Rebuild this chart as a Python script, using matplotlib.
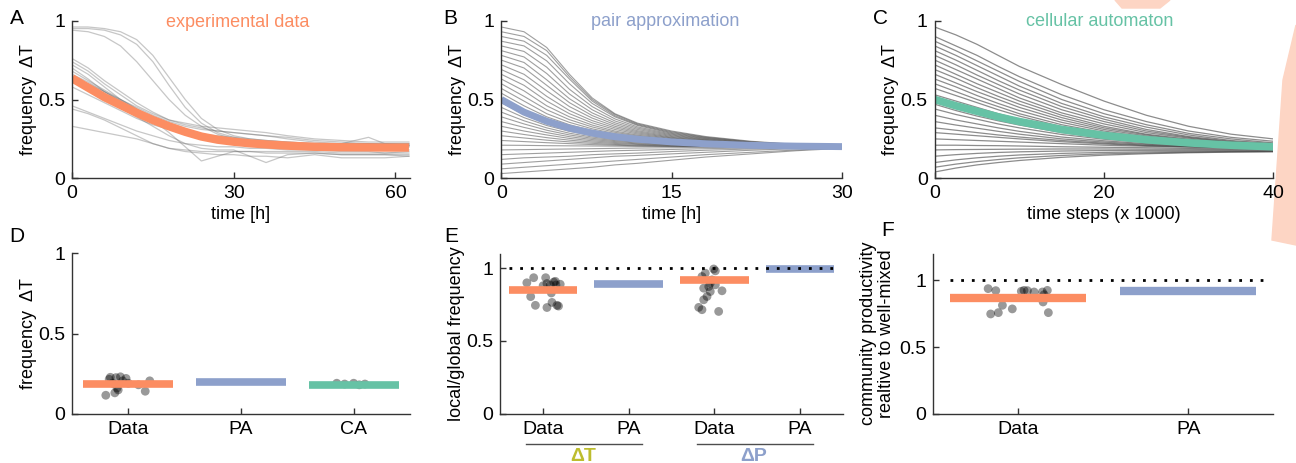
import matplotlib.pyplot as plt
from matplotlib.patches import Polygon

plt.rcParams['font.family'] = ['Liberation Sans', 'DejaVu Sans']
plt.rcParams['font.size'] = 13

ORANGE = '#FC8D62'
BLUE = '#8DA0CB'
GREEN = '#66C2A5'
OLIVE = '#BDBD2E'

# ---------------- A: experimental data (time in h)
tA = [0, 3, 6, 9, 12, 15, 18, 21, 24, 27, 30, 33, 36, 40, 45, 50, 55, 58, 62.5]
A_curves = [
    [0.96, 0.96, 0.95, 0.93, 0.88, 0.78, 0.64, 0.50, 0.38, 0.31, 0.27, 0.25, 0.24, 0.23, 0.22, 0.22, 0.22, 0.22, 0.22],
    [0.95, 0.95, 0.94, 0.91, 0.85, 0.74, 0.59, 0.45, 0.35, 0.29, 0.26, 0.24, 0.23, 0.22, 0.21, 0.21, 0.21, 0.21, 0.21],
    [0.94, 0.93, 0.90, 0.84, 0.74, 0.62, 0.50, 0.40, 0.33, 0.28, 0.25, 0.23, 0.22, 0.21, 0.20, 0.20, 0.20, 0.20, 0.20],
    [0.76, 0.70, 0.62, 0.55, 0.48, 0.42, 0.37, 0.34, 0.32, 0.30, 0.29, 0.28, 0.27, 0.26, 0.24, 0.23, 0.22, 0.22, 0.22],
    [0.74, 0.68, 0.60, 0.53, 0.46, 0.41, 0.37, 0.35, 0.33, 0.32, 0.31, 0.30, 0.29, 0.27, 0.25, 0.24, 0.23, 0.23, 0.23],
    [0.72, 0.66, 0.58, 0.50, 0.44, 0.38, 0.33, 0.30, 0.28, 0.27, 0.26, 0.25, 0.24, 0.23, 0.22, 0.21, 0.21, 0.21, 0.21],
    [0.70, 0.63, 0.55, 0.49, 0.43, 0.37, 0.29, 0.20, 0.11, 0.14, 0.17, 0.17, 0.17, 0.17, 0.17, 0.16, 0.16, 0.16, 0.17],
    [0.68, 0.62, 0.56, 0.50, 0.44, 0.39, 0.34, 0.30, 0.27, 0.25, 0.24, 0.23, 0.22, 0.22, 0.21, 0.22, 0.26, 0.22, 0.21],
    [0.66, 0.61, 0.55, 0.49, 0.43, 0.37, 0.32, 0.28, 0.25, 0.23, 0.22, 0.21, 0.20, 0.19, 0.18, 0.18, 0.18, 0.18, 0.18],
    [0.64, 0.60, 0.55, 0.50, 0.45, 0.40, 0.36, 0.33, 0.31, 0.30, 0.29, 0.28, 0.27, 0.25, 0.23, 0.22, 0.22, 0.21, 0.21],
    [0.62, 0.57, 0.51, 0.45, 0.39, 0.33, 0.27, 0.22, 0.19, 0.18, 0.18, 0.14, 0.10, 0.15, 0.16, 0.15, 0.15, 0.15, 0.14],
    [0.58, 0.53, 0.48, 0.43, 0.38, 0.34, 0.31, 0.29, 0.27, 0.26, 0.25, 0.24, 0.23, 0.22, 0.21, 0.20, 0.20, 0.20, 0.20],
    [0.46, 0.42, 0.38, 0.34, 0.30, 0.27, 0.24, 0.22, 0.21, 0.20, 0.20, 0.19, 0.19, 0.18, 0.18, 0.17, 0.17, 0.16, 0.16],
    [0.44, 0.41, 0.37, 0.32, 0.27, 0.22, 0.19, 0.18, 0.17, 0.17, 0.17, 0.17, 0.16, 0.16, 0.16, 0.15, 0.15, 0.15, 0.15],
    [0.33, 0.31, 0.29, 0.27, 0.25, 0.22, 0.19, 0.17, 0.16, 0.15, 0.15, 0.14, 0.14, 0.13, 0.15, 0.13, 0.13, 0.13, 0.14],
]
A_mean = [0.635, 0.575, 0.515, 0.465, 0.415, 0.37, 0.33, 0.295, 0.265, 0.245, 0.232,
          0.222, 0.215, 0.207, 0.2, 0.197, 0.196, 0.195, 0.195]

# ---------------- B: pair approximation (time in h)
tB = [0, 2, 4, 6, 8, 10, 12, 15, 18, 22, 26, 30]
B_curves = [
    [0.03, 0.04, 0.05, 0.06, 0.07, 0.085, 0.095, 0.115, 0.135, 0.155, 0.175, 0.19],
    [0.06, 0.07, 0.08, 0.09, 0.10, 0.11, 0.12, 0.135, 0.15, 0.165, 0.18, 0.192],
    [0.09, 0.10, 0.11, 0.12, 0.13, 0.14, 0.145, 0.155, 0.165, 0.178, 0.188, 0.195],
    [0.12, 0.13, 0.135, 0.14, 0.15, 0.155, 0.16, 0.17, 0.178, 0.186, 0.192, 0.197],
    [0.15, 0.155, 0.16, 0.165, 0.17, 0.175, 0.178, 0.183, 0.188, 0.192, 0.196, 0.199],
    [0.18, 0.182, 0.184, 0.186, 0.188, 0.19, 0.192, 0.194, 0.196, 0.198, 0.199, 0.2],
    [0.21, 0.209, 0.207, 0.206, 0.205, 0.204, 0.203, 0.202, 0.201, 0.2, 0.2, 0.2],
    [0.24, 0.233, 0.226, 0.22, 0.214, 0.21, 0.206, 0.203, 0.202, 0.201, 0.2, 0.2],
    [0.27, 0.256, 0.242, 0.231, 0.222, 0.215, 0.21, 0.206, 0.203, 0.201, 0.2, 0.2],
    [0.30, 0.278, 0.258, 0.242, 0.23, 0.221, 0.215, 0.209, 0.205, 0.202, 0.201, 0.2],
    [0.33, 0.30, 0.275, 0.253, 0.238, 0.227, 0.219, 0.212, 0.207, 0.203, 0.201, 0.2],
    [0.36, 0.323, 0.29, 0.264, 0.246, 0.233, 0.224, 0.215, 0.209, 0.204, 0.201, 0.2],
    [0.39, 0.345, 0.305, 0.275, 0.254, 0.239, 0.229, 0.219, 0.211, 0.205, 0.202, 0.2],
    [0.42, 0.365, 0.32, 0.286, 0.262, 0.245, 0.234, 0.222, 0.213, 0.206, 0.202, 0.2],
    [0.45, 0.385, 0.335, 0.298, 0.271, 0.252, 0.239, 0.225, 0.215, 0.207, 0.203, 0.2],
    [0.48, 0.405, 0.35, 0.31, 0.28, 0.259, 0.244, 0.228, 0.217, 0.208, 0.203, 0.2],
    [0.51, 0.43, 0.37, 0.325, 0.292, 0.268, 0.25, 0.232, 0.219, 0.209, 0.204, 0.201],
    [0.54, 0.46, 0.39, 0.34, 0.303, 0.276, 0.256, 0.236, 0.222, 0.21, 0.204, 0.201],
    [0.57, 0.49, 0.41, 0.355, 0.314, 0.284, 0.262, 0.24, 0.224, 0.211, 0.205, 0.201],
    [0.60, 0.52, 0.435, 0.372, 0.326, 0.292, 0.268, 0.244, 0.227, 0.212, 0.205, 0.201],
    [0.63, 0.555, 0.46, 0.39, 0.338, 0.30, 0.274, 0.248, 0.229, 0.213, 0.206, 0.201],
    [0.66, 0.59, 0.49, 0.41, 0.352, 0.31, 0.281, 0.252, 0.232, 0.215, 0.206, 0.201],
    [0.69, 0.625, 0.52, 0.43, 0.366, 0.32, 0.288, 0.256, 0.235, 0.216, 0.207, 0.201],
    [0.72, 0.66, 0.555, 0.455, 0.382, 0.33, 0.295, 0.26, 0.238, 0.218, 0.208, 0.202],
    [0.75, 0.70, 0.59, 0.48, 0.398, 0.341, 0.302, 0.265, 0.241, 0.219, 0.208, 0.202],
    [0.78, 0.735, 0.625, 0.505, 0.415, 0.352, 0.31, 0.27, 0.244, 0.221, 0.209, 0.202],
    [0.81, 0.77, 0.665, 0.535, 0.435, 0.364, 0.318, 0.275, 0.247, 0.223, 0.21, 0.202],
    [0.84, 0.805, 0.705, 0.565, 0.455, 0.377, 0.326, 0.28, 0.251, 0.225, 0.211, 0.202],
    [0.87, 0.84, 0.745, 0.60, 0.475, 0.39, 0.335, 0.285, 0.254, 0.227, 0.212, 0.203],
    [0.90, 0.87, 0.78, 0.63, 0.49, 0.397, 0.34, 0.29, 0.258, 0.23, 0.213, 0.203],
    [0.93, 0.90, 0.81, 0.645, 0.50, 0.405, 0.345, 0.295, 0.261, 0.232, 0.214, 0.203],
    [0.96, 0.93, 0.83, 0.66, 0.51, 0.41, 0.35, 0.30, 0.265, 0.235, 0.215, 0.203],
]
B_mean = [0.5, 0.42, 0.362, 0.318, 0.287, 0.264, 0.248, 0.231, 0.219, 0.209, 0.204, 0.201]

# ---------------- C: cellular automaton (time steps x 1000)
tC = [0, 2.5, 5, 7.5, 10, 15, 20, 25, 30, 35, 40]
C_curves = [
    [0.96, 0.91, 0.85, 0.78, 0.71, 0.595, 0.49, 0.40, 0.33, 0.28, 0.25],
    [0.90, 0.84, 0.78, 0.71, 0.645, 0.53, 0.435, 0.36, 0.30, 0.26, 0.235],
    [0.87, 0.81, 0.745, 0.68, 0.615, 0.50, 0.41, 0.34, 0.285, 0.25, 0.225],
    [0.84, 0.78, 0.715, 0.65, 0.585, 0.475, 0.39, 0.325, 0.275, 0.24, 0.22],
    [0.81, 0.75, 0.685, 0.62, 0.56, 0.455, 0.375, 0.31, 0.265, 0.235, 0.215],
    [0.78, 0.72, 0.655, 0.595, 0.535, 0.435, 0.36, 0.30, 0.26, 0.23, 0.21],
    [0.75, 0.69, 0.63, 0.57, 0.51, 0.415, 0.345, 0.29, 0.255, 0.228, 0.21],
    [0.72, 0.66, 0.60, 0.545, 0.49, 0.40, 0.33, 0.28, 0.248, 0.225, 0.208],
    [0.69, 0.635, 0.575, 0.52, 0.47, 0.385, 0.32, 0.275, 0.243, 0.222, 0.207],
    [0.66, 0.605, 0.55, 0.50, 0.45, 0.37, 0.31, 0.268, 0.238, 0.218, 0.205],
    [0.63, 0.58, 0.525, 0.475, 0.43, 0.355, 0.30, 0.26, 0.233, 0.215, 0.204],
    [0.60, 0.55, 0.50, 0.455, 0.41, 0.34, 0.29, 0.253, 0.228, 0.212, 0.203],
    [0.57, 0.525, 0.48, 0.435, 0.395, 0.328, 0.282, 0.248, 0.225, 0.21, 0.202],
    [0.53, 0.49, 0.45, 0.41, 0.375, 0.315, 0.272, 0.242, 0.222, 0.208, 0.2],
    [0.47, 0.43, 0.395, 0.365, 0.338, 0.29, 0.257, 0.233, 0.216, 0.204, 0.197],
    [0.44, 0.405, 0.375, 0.345, 0.32, 0.278, 0.248, 0.228, 0.212, 0.202, 0.195],
    [0.40, 0.37, 0.345, 0.32, 0.298, 0.262, 0.238, 0.22, 0.208, 0.2, 0.194],
    [0.36, 0.338, 0.318, 0.298, 0.28, 0.25, 0.23, 0.215, 0.205, 0.198, 0.192],
    [0.32, 0.305, 0.29, 0.275, 0.262, 0.24, 0.223, 0.21, 0.202, 0.196, 0.19],
    [0.29, 0.28, 0.27, 0.26, 0.25, 0.232, 0.218, 0.207, 0.2, 0.195, 0.19],
    [0.25, 0.245, 0.24, 0.235, 0.23, 0.22, 0.21, 0.203, 0.198, 0.193, 0.188],
    [0.21, 0.21, 0.208, 0.207, 0.205, 0.2, 0.197, 0.194, 0.19, 0.187, 0.185],
    [0.18, 0.182, 0.183, 0.184, 0.185, 0.186, 0.186, 0.185, 0.184, 0.182, 0.18],
    [0.14, 0.15, 0.158, 0.164, 0.168, 0.173, 0.176, 0.177, 0.177, 0.176, 0.175],
    [0.10, 0.117, 0.13, 0.14, 0.148, 0.158, 0.164, 0.168, 0.17, 0.171, 0.172],
    [0.07, 0.09, 0.106, 0.119, 0.13, 0.145, 0.155, 0.161, 0.165, 0.168, 0.17],
    [0.04, 0.065, 0.085, 0.10, 0.113, 0.133, 0.147, 0.156, 0.162, 0.166, 0.168],
]
C_mean = [0.5, 0.46, 0.425, 0.39, 0.36, 0.31, 0.272, 0.245, 0.225, 0.21, 0.2]

# ---------------- D: final frequency of Delta T
D_labels = ['Data', 'PA', 'CA']
D_means = [0.186, 0.2, 0.18]
D_data_x = [0.80, 0.83, 0.84, 0.86, 0.88, 0.90, 0.91, 0.93, 0.95, 0.98, 1.00, 1.09, 1.15, 1.19, 0.89]
D_data_y = [0.115, 0.215, 0.227, 0.19, 0.13, 0.16, 0.148, 0.23, 0.205, 0.22, 0.19, 0.18, 0.14, 0.205, 0.225]
D_ca_x = [2.85, 2.92, 3.0, 3.05, 3.1]
D_ca_y = [0.19, 0.185, 0.19, 0.18, 0.185]

# ---------------- E: local/global frequency
E_labels = ['Data', 'PA', 'Data', 'PA']
E_means = [0.85, 0.89, 0.916, 0.996]
E_dT_x = [0.81, 0.89, 0.855, 0.91, 1.03, 1.045, 1.045, 1.096, 1.104, 1.143, 1.162, 1.18, 1.2, 1.084, 1.15, 1.124, 1.0]
E_dT_y = [0.90, 0.935, 0.805, 0.745, 0.935, 0.895, 0.73, 0.83, 0.765, 0.91, 0.745, 0.74, 0.89, 0.885, 0.885, 0.905, 0.88]
E_dP_x = [2.856, 2.895, 2.993, 3.012, 2.935, 2.876, 2.953, 2.915, 2.876, 2.818, 2.856, 3.051, 3.09, 3.012, 2.973, 2.953]
E_dP_y = [0.943, 0.966, 0.995, 0.982, 0.874, 0.863, 0.84, 0.806, 0.783, 0.731, 0.715, 0.703, 0.845, 0.886, 0.92, 0.897]

# ---------------- F: community productivity
F_labels = ['Data', 'PA']
F_means = [0.87, 0.918]
F_x = [0.824, 0.869, 0.839, 0.884, 0.908, 0.966, 1.019, 1.035, 1.055, 1.094, 1.143, 1.147, 1.172, 1.178, 1.153]
F_y = [0.938, 0.923, 0.748, 0.758, 0.813, 0.786, 0.918, 0.925, 0.923, 0.913, 0.913, 0.838, 0.925, 0.758, 0.893]


def style(ax):
    for s in ['top', 'right']:
        ax.spines[s].set_visible(False)
    for s in ['left', 'bottom']:
        ax.spines[s].set_color('#333333')
        ax.spines[s].set_linewidth(1.0)
    ax.tick_params(direction='in', length=4, width=1, color='#333333',
                   labelsize=14, pad=5)


W, H = 1296, 463
fig = plt.figure(figsize=(W / 100, H / 100), dpi=100)

# stray shapes from the neighbouring figure at the top right (drawn first)
peach = '#FDD5C4'
fig.patches.append(Polygon([(1115 / W, 1), (1170 / W, 1), (1160 / W, 1 - 8 / H), (1122 / W, 1 - 8 / H)],
                           closed=True, transform=fig.transFigure, color=peach, zorder=-5))
fig.patches.append(Polygon([(1, 1 - 25 / H), (1283 / W, 1 - 80 / H), (1272 / W, 1 - 240 / H), (1, 1 - 245 / H)],
                           closed=True, transform=fig.transFigure, color=peach, zorder=-5))


def px_axes(x0, x1, ytop, ybot):
    ax = fig.add_axes([x0 / W, 1 - ybot / H, (x1 - x0) / W, (ybot - ytop) / H])
    ax.patch.set_alpha(0)
    return ax


axA = px_axes(72, 410, 20.7, 178.3)
axB = px_axes(501.3, 842, 20.7, 178.3)
axC = px_axes(934.7, 1273.3, 20.7, 178.3)
axD = px_axes(72, 410, 253.3, 413.7)
axE = px_axes(500.3, 842.7, 253.7, 413.7)
axF = px_axes(933, 1273.3, 253.7, 413.7)

yt = [0, 0.5, 1]
ytl = ['0', '0.5', '1']

# A
for c in A_curves:
    axA.plot(tA, c, color='0.45', alpha=0.4, lw=0.9)
axA.plot(tA, A_mean, color=ORANGE, lw=6, solid_capstyle='butt')
axA.set_xlim(0, 62.7)
axA.set_xticks([0, 30, 60])
axA.set_xlabel('time [h]', labelpad=3)
axA.text(0.49, 0.99, 'experimental data', color=ORANGE, transform=axA.transAxes,
         ha='center', va='center', fontsize=13)

# B
for c in B_curves:
    axB.plot(tB, c, color='0.25', alpha=0.5, lw=0.8)
axB.plot(tB, B_mean, color=BLUE, lw=5, solid_capstyle='butt')
axB.set_xlim(0, 30)
axB.set_xticks([0, 15, 30])
axB.set_xlabel('time [h]', labelpad=3)
axB.text(0.481, 0.993, 'pair approximation', color=BLUE, transform=axB.transAxes,
         ha='center', va='center', fontsize=13)

# C
for c in C_curves:
    axC.plot(tC, c, color='0.25', alpha=0.6, lw=0.9)
axC.plot(tC, C_mean, color=GREEN, lw=5.5, solid_capstyle='butt')
axC.set_xlim(0, 40)
axC.set_xticks([0, 20, 40])
axC.set_xlabel('time steps (x 1000)', labelpad=3)
axC.text(0.487, 0.993, 'cellular automaton', color=GREEN, transform=axC.transAxes,
         ha='center', va='center', fontsize=13)

for ax in (axA, axB, axC):
    ax.set_ylim(0, 1)
    ax.set_yticks(yt)
    ax.set_yticklabels(ytl)
    ax.set_ylabel('frequency  ΔT', labelpad=1)
    style(ax)

# D
axD.scatter(D_data_x, D_data_y, s=40, color='k', alpha=0.4, edgecolors='none', zorder=2)
axD.scatter(D_ca_x, D_ca_y, s=40, color='k', alpha=0.4, edgecolors='none', zorder=2)
for i, (m, col) in enumerate(zip(D_means, [ORANGE, BLUE, GREEN])):
    axD.hlines(m, i + 0.6, i + 1.4, color=col, lw=5.5, zorder=3)
axD.set_xlim(0.5, 3.5)
axD.set_ylim(0, 1)
axD.set_xticks([1, 2, 3])
axD.set_xticklabels(D_labels)
axD.set_yticks(yt)
axD.set_yticklabels(ytl)
axD.set_ylabel('frequency  ΔT', labelpad=1)
style(axD)

# E
axE.scatter(E_dT_x, E_dT_y, s=40, color='k', alpha=0.4, edgecolors='none', zorder=2)
axE.scatter(E_dP_x, E_dP_y, s=40, color='k', alpha=0.4, edgecolors='none', zorder=2)
for i, (m, col) in enumerate(zip(E_means, [ORANGE, BLUE, ORANGE, BLUE])):
    axE.hlines(m, i + 0.6, i + 1.4, color=col, lw=5.5, zorder=3)
axE.hlines(1, 0.6, 4.45, color='k', lw=2, linestyles=(0, (1, 2.85)), zorder=4)
axE.set_xlim(0.5, 4.5)
axE.set_ylim(0, 1.1)
axE.set_xticks([1, 2, 3, 4])
axE.set_xticklabels(E_labels)
axE.set_yticks(yt)
axE.set_yticklabels(ytl)
axE.set_ylabel('local/global frequency', labelpad=1)
style(axE)
tr = axE.get_xaxis_transform()
axE.plot([0.8, 2.15], [-0.19, -0.19], color='0.3', lw=1, transform=tr, clip_on=False)
axE.plot([2.8, 4.15], [-0.19, -0.19], color='0.3', lw=1, transform=tr, clip_on=False)
axE.text(1.47, -0.215, 'ΔT', color=OLIVE, transform=tr, ha='center', va='top',
         fontsize=14, fontweight='bold')
axE.text(3.46, -0.215, 'ΔP', color=BLUE, transform=tr, ha='center', va='top',
         fontsize=14, fontweight='bold')

# F
axF.scatter(F_x, F_y, s=40, color='k', alpha=0.4, edgecolors='none', zorder=2)
for i, (m, col) in enumerate(zip(F_means, [ORANGE, BLUE])):
    axF.hlines(m, i + 0.6, i + 1.4, color=col, lw=6, zorder=3)
axF.hlines(1, 0.6, 2.47, color='k', lw=2, linestyles=(0, (1, 2.85)), zorder=4)
axF.set_xlim(0.5, 2.5)
axF.set_ylim(0, 1.2)
axF.set_xticks([1, 2])
axF.set_xticklabels(F_labels)
axF.set_yticks(yt)
axF.set_yticklabels(ytl)
axF.set_ylabel('community productivity\nrealtive to well-mixed', labelpad=3,
               linespacing=1.05)
style(axF)

# panel letters
for lab, x, y in [('A', 17, 18), ('B', 450, 18), ('C', 881, 18),
                  ('D', 17, 236), ('E', 451, 236), ('F', 888, 231)]:
    fig.text(x / W, 1 - y / H, lab, fontsize=15, ha='center', va='center')

fig.savefig('out.png', dpi=100)
